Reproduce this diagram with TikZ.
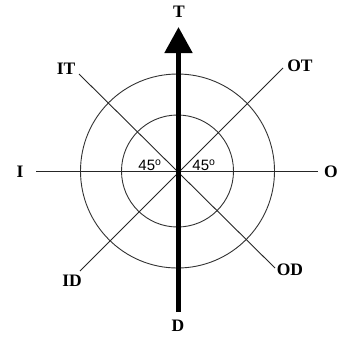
\documentclass[tikz,border=0pt]{standalone}
\usepackage{fontspec}
\setmainfont{Liberation Serif}
\newfontfamily\lblsans{Liberation Sans}
\usetikzlibrary{arrows.meta}
\begin{document}
\begin{tikzpicture}[x=1pt,y=-1pt,
  thin line/.style={line width=0.9pt,draw=black!85},
  ring/.style={line width=0.9pt,draw=black!80},
  dirlabel/.style={font=\fontsize{17.5}{17.5}\selectfont\bfseries,inner sep=0pt},
  anglelabel/.style={font=\lblsans\fontsize{15}{15}\selectfont,inner sep=0pt}]
\useasboundingbox[fill=white] (0,0) rectangle (342,341);
\coordinate (C) at (177.5,171);
% circles
\draw[ring] (C) circle[radius=97];
\draw[ring] (C) circle[radius=56];
% line ends
\coordinate (Lend) at (36,171);
\coordinate (Rend) at (318,171);
\coordinate (ITend) at (79,74);
\coordinate (OTend) at (283,68);
\coordinate (IDend) at (80,271);
\coordinate (ODend) at (275,268);
\coordinate (Dend) at (178.5,312);
\coordinate (Tend) at (178.5,27);
% labels
\node[dirlabel] (T) at (179,12) {T};
\node[dirlabel] (D) at (178,326) {D};
\node[dirlabel] (I) at (20,172) {I};
\node[dirlabel] (O) at (331,172) {O};
\node[dirlabel] (IT) at (66,69) {IT};
\node[dirlabel] (OT) at (300,66) {OT};
\node[dirlabel] (ID) at (72,281) {ID};
\node[dirlabel] (OD) at (290,270) {OD};
\node[anglelabel] (A1) at (150,165) {45\textsuperscript{o}};
\node[anglelabel] (A2) at (204,165) {45\textsuperscript{o}};
% axes
\draw[thin line] (Lend) -- (Rend);
\draw[thin line] (ITend) -- (ODend);
\draw[thin line] (OTend) -- (IDend);
\draw[line width=5pt,-{Triangle[width=27pt,length=26pt]}] (Dend) -- (Tend);
\end{tikzpicture}
\end{document}
